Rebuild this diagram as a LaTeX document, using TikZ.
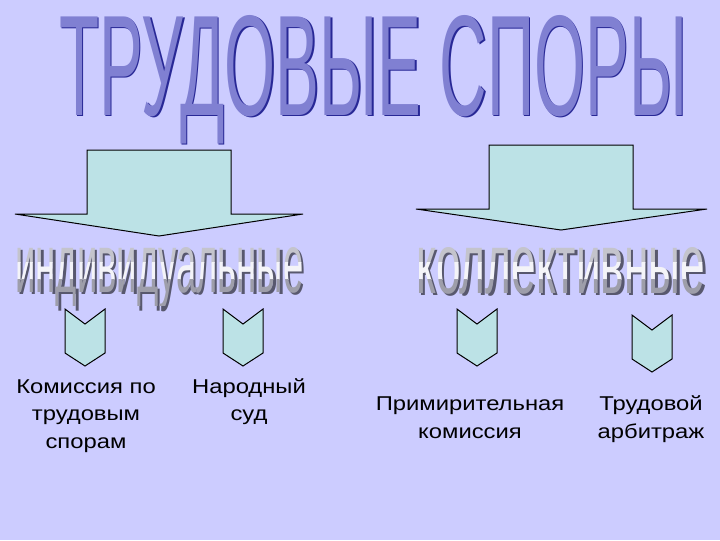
\documentclass[tikz,border=0pt]{standalone}
\usepackage{fontspec}
\setmainfont{Liberation Sans}
\newfontfamily\widesans[FakeStretch=1.19]{Liberation Sans}
\usepackage{graphicx}
\usetikzlibrary{calc}

\definecolor{bgcol}{RGB}{204,204,255}
\definecolor{arrowfill}{RGB}{188,226,230}
\definecolor{titlefill}{RGB}{128,128,210}
\definecolor{titleline}{RGB}{40,40,150}
\definecolor{silvertop}{RGB}{196,196,204}
\definecolor{silvermid}{RGB}{244,244,248}
\definecolor{silverbot}{RGB}{158,158,170}
\definecolor{silvershade}{RGB}{88,88,110}

\tikzstyle{blockarrow} = [draw=black, line width=0.75pt, fill=arrowfill, line join=miter]
\tikzstyle{leaftext} = [align=center, font=\widesans\fontsize{15}{20.6}\selectfont, inner sep=0pt, anchor=base]
\tikzstyle{wordart} = [inner sep=0pt, anchor=base west]

\newcommand{\indword}{\resizebox{216pt}{33.75pt}{индивидуальные}}
\newcommand{\kolword}{\resizebox{216.75pt}{34.5pt}{коллективные}}

\begin{document}
\begin{tikzpicture}[x=0.75pt, y=-0.75pt]

        \fill[bgcol] (0,0) rectangle (720,540);
        \useasboundingbox (0,0) rectangle (720,540);

        % title
        \node[wordart, text=titleline] (titleshadow) at (60.5,116.5) {\resizebox{471pt}{75pt}{ТРУДОВЫЕ СПОРЫ}};
        \node[wordart, text=titlefill] (title) at (59,115) {\resizebox{471pt}{75pt}{ТРУДОВЫЕ СПОРЫ}};

        % big arrows
        \draw[blockarrow] (87,150) -- (231,150) -- (231,214) -- (303,214) -- (159,236) -- (15,214) -- (87,214) -- cycle;
        \draw[blockarrow] (489,145) -- (633,145) -- (633,209) -- (707,209) -- (561,230) -- (416,209) -- (489,209) -- cycle;

        % silver words, shadow first then three bands
        \node[wordart, text=silvershade] (indshadow) at (17.5,294.5) {\indword};
        \node[wordart, text=silvershade] (kolshadow) at (418.5,295.5) {\kolword};
        \foreach \ytop/\ybot/\shade in {240/262/silvertop, 262/279/silvermid, 279/305/silverbot} {
            \begin{scope}
                \clip (0,\ytop) rectangle (720,\ybot);
                \node[wordart, text=\shade] (ind-\shade) at (15,292) {\indword};
                \node[wordart, text=\shade] (kol-\shade) at (416,293) {\kolword};
            \end{scope}
        }

        % small arrows
        \foreach \cx/\cy in {85/309, 243/309, 477/309, 652/315}
            \draw[blockarrow] (\cx-20,\cy) -- (\cx,\cy+15) -- (\cx+20,\cy) -- (\cx+20,\cy+44) -- (\cx,\cy+57) -- (\cx-20,\cy+44) -- cycle;

        \node[leaftext] (kts) at (86,448) {Комиссия по\\трудовым\\спорам};
        \node[leaftext] (nsud) at (249,420.5) {Народный\\суд};
        \node[leaftext] (pkom) at (470,438) {Примирительная\\комиссия};
        \node[leaftext] (tarb) at (651,438) {Трудовой\\арбитраж};

    \end{tikzpicture}
\end{document}
